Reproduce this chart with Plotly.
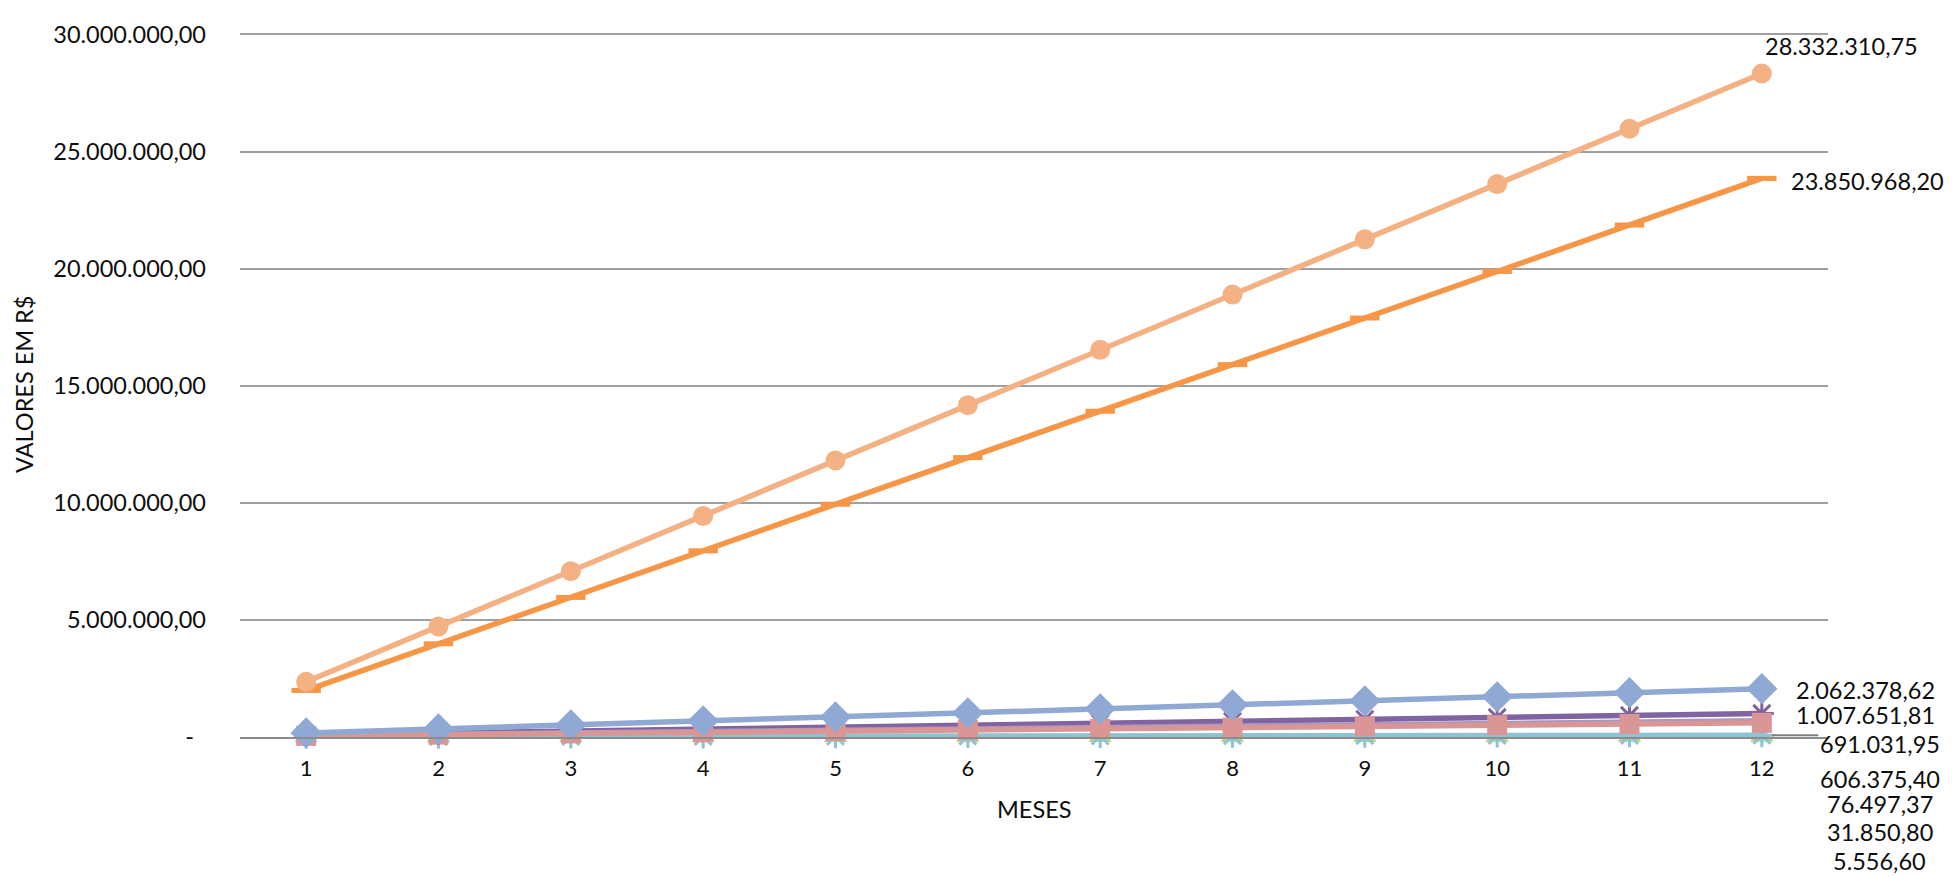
import plotly.graph_objects as go

# ---------------- data ----------------
meses = [1, 2, 3, 4, 5, 6, 7, 8, 9, 10, 11, 12]

s_laranja_claro = [2360000, 4720000, 7080000, 9440000, 11810000, 14170000,
                   16530000, 18890000, 21250000, 23610000, 25970000, 28332310.75]
s_laranja = [1990000, 3980000, 5960000, 7950000, 9940000, 11930000,
             13910000, 15900000, 17890000, 19880000, 21860000, 23850968.20]
s_azul = [172000, 344000, 516000, 687000, 859000, 1031000,
          1203000, 1375000, 1547000, 1719000, 1891000, 2062378.62]
s_roxo = [84000, 168000, 252000, 336000, 420000, 504000,
          588000, 672000, 756000, 840000, 924000, 1007651.81]
s_lilas = [57600, 115200, 172800, 230400, 288000, 345500,
           403100, 460700, 518300, 575900, 633400, 691031.95]
s_rosa = [50500, 101100, 151600, 202100, 252700, 303200,
          353700, 404300, 454800, 505300, 555800, 606375.40]
s_ciano = [6400, 12700, 19100, 25500, 31900, 38200,
           44600, 51000, 57400, 63700, 70100, 76497.37]
s_verde = [2700, 5300, 8000, 10600, 13300, 15900,
           18600, 21200, 23900, 26500, 29200, 31850.80]
s_verde_claro = [460, 930, 1390, 1850, 2320, 2780,
                 3240, 3700, 4170, 4630, 5090, 5556.60]

y_tickvals = [0, 5000000, 10000000, 15000000, 20000000, 25000000, 30000000]
y_ticktext = ["-\u00a0\u00a0", "5.000.000,00", "10.000.000,00", "15.000.000,00",
              "20.000.000,00", "25.000.000,00", "30.000.000,00"]

x_title = "MESES"
y_title = "VALORES EM R$"

FONT = "Lato"
TXT = "#0d0d0d"
FS = 23.5


def fmt_br(v):
    s = f"{v:,.2f}"
    return s.replace(",", "X").replace(".", ",").replace("X", ".")


fig = go.Figure()

# (values, color, marker symbol, marker size, label xshift, label yshift, xanchor)
series = [
    (s_verde_claro, "#C9DCA6", "triangle-up", 20, 118, -124, "center"),
    (s_verde, "#B9CF8B", "triangle-up", 20, 118, -96, "center"),
    (s_ciano, "#8CC4D6", "asterisk-open", 20, 118, -69, "center"),
    (s_roxo, "#8064A2", "asterisk-open", 20, 32, -2, "left"),
    (s_lilas, "#A897C0", None, 0, 118, -23, "center"),
    (s_rosa, "#D99694", "square", 20, 118, -56, "center"),
    (s_azul, "#8FA9D4", "diamond", 24, 32, -1, "left"),
    (s_laranja, "#F79646", "line-ew-open", 21, 27, -3, "left"),
    (s_laranja_claro, "#F4B183", "circle", 20, 1, 27, "left"),
]

for vals, color, sym, msize, xs, ys, xa in series:
    if sym is None:
        marker = dict(size=1, color=color)
        mode = "lines"
    elif sym.endswith("-open"):
        marker = dict(symbol=sym, size=msize, color=color,
                      line=dict(color=color, width=3 if sym.startswith("asterisk") else 5))
        mode = "lines+markers"
    else:
        marker = dict(symbol=sym, size=msize, color=color, line=dict(width=0))
        mode = "lines+markers"
    fig.add_trace(go.Scatter(x=meses, y=vals, mode=mode,
                             line=dict(color=color, width=5.5),
                             marker=marker, showlegend=False,
                             cliponaxis=False))
    fig.add_annotation(x=meses[-1], y=vals[-1], xref="x", yref="y",
                       text=fmt_br(vals[-1]), showarrow=False,
                       xanchor=xa, yanchor="middle", xshift=xs, yshift=ys,
                       font=dict(family=FONT, size=FS, color=TXT))

# leader line for the displaced label
fig.add_annotation(x=meses[-1], y=s_ciano[-1], xref="x", yref="y",
                   text="", showarrow=True, arrowhead=0, arrowwidth=2,
                   arrowcolor="#7F7F7F", ax=58, ay=0, standoff=10)

# axis titles
fig.add_annotation(x=0.5, y=0, xref="paper", yref="paper", text=x_title,
                   showarrow=False, xanchor="center", yanchor="middle",
                   yshift=-72, font=dict(family=FONT, size=FS, color=TXT))
fig.add_annotation(x=0, y=0.5, xref="paper", yref="paper", text=y_title,
                   showarrow=False, xanchor="center", yanchor="middle",
                   textangle=-90, xshift=-216,
                   font=dict(family=FONT, size=FS, color=TXT))

# the page body adds an 8px offset; the figure is sized to fit the window
fig.update_layout(
    width=1944, height=869,
    margin=dict(l=232, r=124, t=14, b=140),
    paper_bgcolor="white", plot_bgcolor="white",
    font=dict(family=FONT, size=FS, color=TXT),
    xaxis=dict(range=[0.5, 12.5], tickvals=meses, ticktext=[str(m) for m in meses],
               showgrid=False, zeroline=False, showline=True,
               linecolor="#8C8C8C", linewidth=2, ticks="",
               ticklabelstandoff=11,
               tickfont=dict(family=FONT, size=22, color=TXT)),
    yaxis=dict(range=[0, 30060000], tickvals=y_tickvals, ticktext=y_ticktext,
               showgrid=True, gridcolor="#A0A0A0", gridwidth=1.5,
               zeroline=False, showline=False, ticks="",
               ticklabelstandoff=33,
               tickfont=dict(family=FONT, size=FS, color=TXT)),
)

fig.write_html("out.html")
